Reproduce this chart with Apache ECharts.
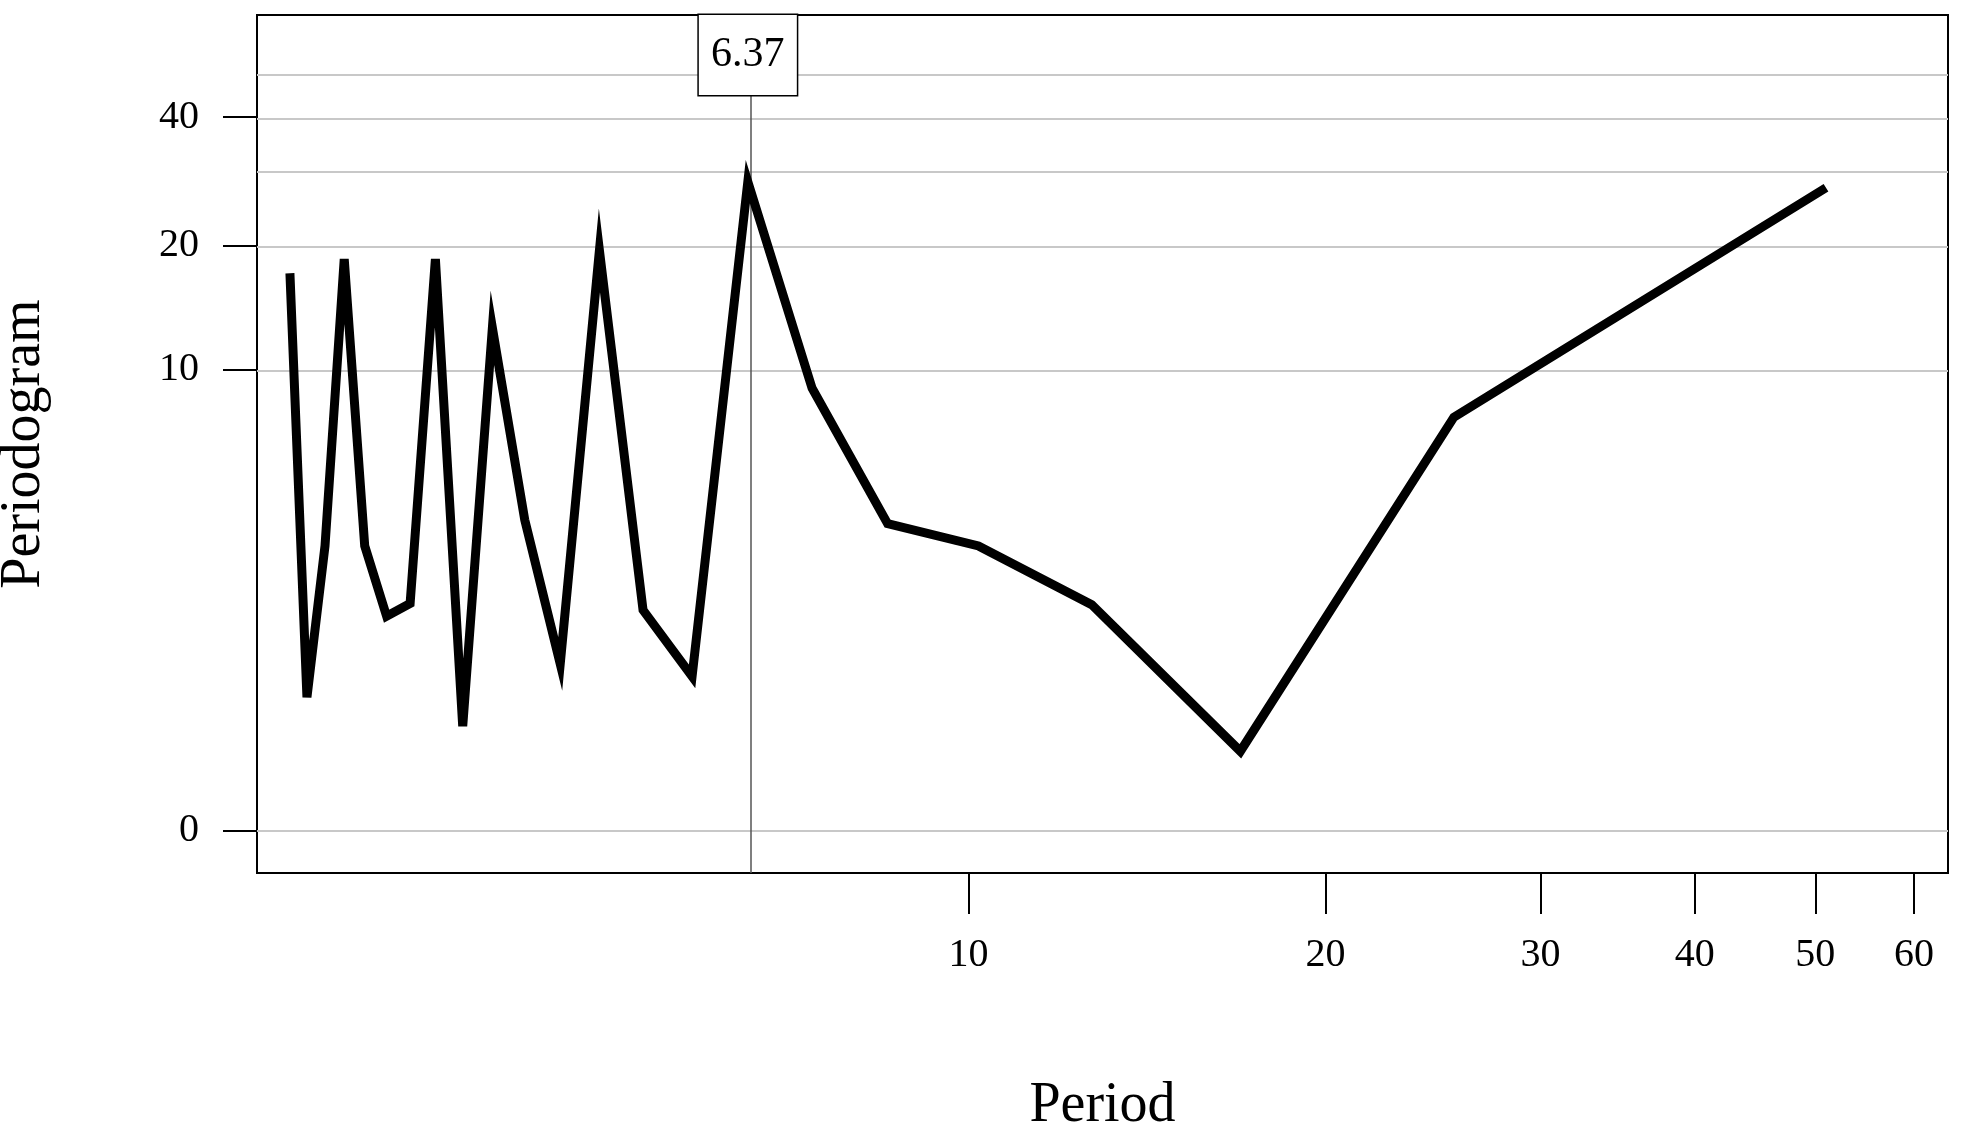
<!DOCTYPE html>
<html><head><meta charset="utf-8">
<script src="https://cdn.jsdelivr.net/npm/echarts@6/dist/echarts.min.js"></script>
<style>html,body{margin:0;padding:0;background:#fff}#c{width:1964px;height:1138px}</style>
</head><body><div id="c"></div>
<script>
// Periodogram data: periods 51/k, k = 1..23
const N = 51;
const harmonics = [1,2,3,4,5,6,7,8,9,10,11,12,13,14,15,16,17,18,19,20,21,22,23];
const periodogram = [27.4,7.6,0.51,2.24,3.4,3.94,9.0,28.3,1.23,2.15,19.5,1.38,4.04,12.7,0.72,18.6,2.26,2.05,3.4,18.6,3.4,1.0,17.2];
const xTickLabels = [10,20,30,40,50,60];
const yTickLabels = [0,10,20,40];
const yGridValues = [0,10,20,30,40,50];
const peakPeriod = 6.37;

const tf = v => Math.log10(v + 1);
const inv = t => Math.round(Math.pow(10, t) - 1);
const pts = harmonics.map((k, i) => [tf(N / k), tf(periodogram[i])]);
const font = '"Liberation Serif","DejaVu Serif",serif';
const chart = echarts.init(document.getElementById('c'));
chart.setOption({
  animation: false,
  grid: { left: 257, right: 16, top: 15, bottom: 265, outerBoundsMode: 'none', containLabel: false,
          show: true, borderColor: '#000', borderWidth: 2, backgroundColor: 'transparent' },
  xAxis: {
    type: 'value', min: 0.4816, max: 1.812,
    name: 'Period', nameLocation: 'middle', nameGap: 205,
    nameTextStyle: { fontFamily: font, fontSize: 56, color: '#000' },
    axisLine: { show: false, onZero: false }, splitLine: { show: false },
    axisTick: { show: true, inside: false, length: 41, lineStyle: { color: '#000', width: 2 }, customValues: xTickLabels.map(tf) },
    axisLabel: { margin: 62, fontFamily: font, fontSize: 40, color: '#000', customValues: xTickLabels.map(tf), formatter: v => String(inv(v)) }
  },
  yAxis: {
    type: 'value', min: -0.0963, max: 1.844,
    name: 'Periodogram', nameLocation: 'middle', nameGap: 205, nameRotate: 90,
    nameTextStyle: { fontFamily: font, fontSize: 56, color: '#000' },
    axisLine: { show: false, onZero: false }, splitLine: { show: false },
    axisTick: { show: true, inside: false, length: 34, lineStyle: { color: '#000', width: 2 }, customValues: yTickLabels.map(tf) },
    axisLabel: { margin: 58, fontFamily: font, fontSize: 40, color: '#000', customValues: yTickLabels.map(tf), formatter: v => String(inv(v)) }
  },
  series: [
    {
      type: 'line', data: [], silent: true,
      markLine: {
        symbol: 'none', silent: true, label: { show: false },
        lineStyle: { color: '#c8c8c8', width: 2, type: 'solid' },
        data: yGridValues.map(v => ({ yAxis: tf(v) }))
      }
    },
    {
      type: 'line', data: pts, showSymbol: false, z: 5,
      lineStyle: { color: '#000', width: 9, join: 'miter' },
      markLine: {
        symbol: 'none', silent: true,
        lineStyle: { color: '#555', width: 1.5, type: 'solid' },
        label: { show: false },
        data: [{ xAxis: tf(N / 8) }]
      },
      markPoint: {
        symbol: 'rect', symbolSize: 0,
        data: [{ coord: [tf(N / 8), 1.844] }],
        label: {
          show: true, position: 'inside', offset: [0, 40],
          formatter: String(peakPeriod),
          fontFamily: font, fontSize: 42, color: '#000',
          backgroundColor: '#fff', borderColor: '#000', borderWidth: 1.5,
          padding: [4, 4, 34, 4], width: 90, align: 'center'
        }
      }
    }
  ]
});
</script></body></html>
